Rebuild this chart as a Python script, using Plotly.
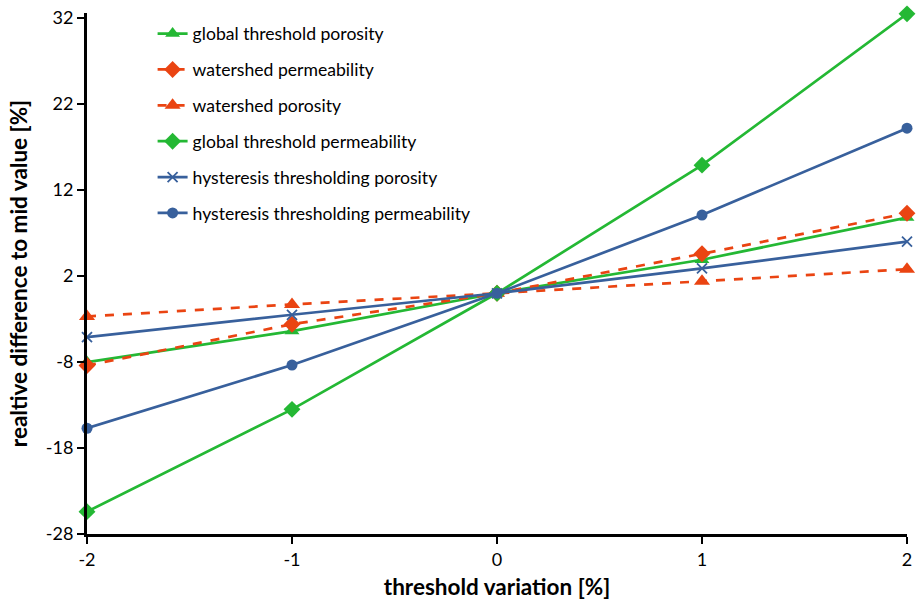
import plotly.graph_objects as go

x_vals = [-2, -1, 0, 1, 2]

global_threshold_porosity = [-8.0, -4.4, 0.0, 3.9, 8.8]
watershed_permeability = [-8.4, -3.6, 0.0, 4.6, 9.3]
watershed_porosity = [-2.7, -1.3, 0.0, 1.4, 2.8]
global_threshold_permeability = [-25.4, -13.5, 0.0, 14.9, 32.5]
hysteresis_porosity = [-5.1, -2.5, 0.0, 2.9, 6.0]
hysteresis_permeability = [-15.7, -8.35, 0.0, 9.1, 19.2]

y_ticks = [-28, -18, -8, 2, 12, 22, 32]

GREEN = "rgb(36,184,52)"
ORANGE = "rgb(234,68,18)"
BLUE = "rgb(56,96,156)"

series = [
    ("global threshold porosity", global_threshold_porosity, GREEN, "solid", "triangle-up", 13),
    ("watershed permeability", watershed_permeability, ORANGE, "dash", "diamond", 13),
    ("watershed porosity", watershed_porosity, ORANGE, "dash", "triangle-up", 14),
    ("global threshold permeability", global_threshold_permeability, GREEN, "solid", "diamond", 13),
    ("hysteresis thresholding porosity", hysteresis_porosity, BLUE, "solid", "x-thin", 10),
    ("hysteresis thresholding permeability", hysteresis_permeability, BLUE, "solid", "circle", 11),
]

fig = go.Figure()
for i, (name, ys, col, dash, sym, size) in enumerate(series):
    marker = dict(symbol=sym, size=size, color=col)
    if sym == "x-thin":
        marker["line"] = dict(color=col, width=1.8)
    fig.add_trace(go.Scatter(
        x=x_vals, y=ys, name=name, mode="lines+markers", legendgroup=f"g{i}",
        line=dict(color=col, width=2.7, dash=dash),
        marker=marker, cliponaxis=False,
    ))

fig.update_layout(
    width=918, height=600,
    margin=dict(l=87, r=11, t=13, b=66, autoexpand=False),
    paper_bgcolor="white", plot_bgcolor="white",
    font=dict(family="Lato, Open Sans, sans-serif", color="black"),
    legend=dict(x=0.08, y=0.995, xanchor="left", yanchor="top",
                font=dict(size=17.6), bgcolor="rgba(0,0,0,0)",
                tracegroupgap=10, itemwidth=30),
    showlegend=True,
)
fig.update_xaxes(
    range=[-2, 2], tickvals=x_vals, ticktext=[str(v) for v in x_vals],
    showgrid=False, zeroline=False, showline=True, linecolor="black", linewidth=3,
    ticks="outside", ticklen=7, tickwidth=2, tickcolor="black",
    tickfont=dict(size=18), automargin=False,
    title=dict(text="<b>threshold variation [%]</b>", font=dict(size=22.5), standoff=12),
)
fig.update_yaxes(
    range=[-28, 32.6], tickvals=y_ticks, ticktext=[str(v) for v in y_ticks],
    showgrid=False, zeroline=False, showline=True, linecolor="black", linewidth=3,
    ticks="outside", ticklen=7, tickwidth=2, tickcolor="black",
    tickfont=dict(size=18), automargin=False,
    title=dict(text="<b>realtive difference to mid value [%]</b>", font=dict(size=22.5), standoff=12),
)

fig.write_html("out.html")
